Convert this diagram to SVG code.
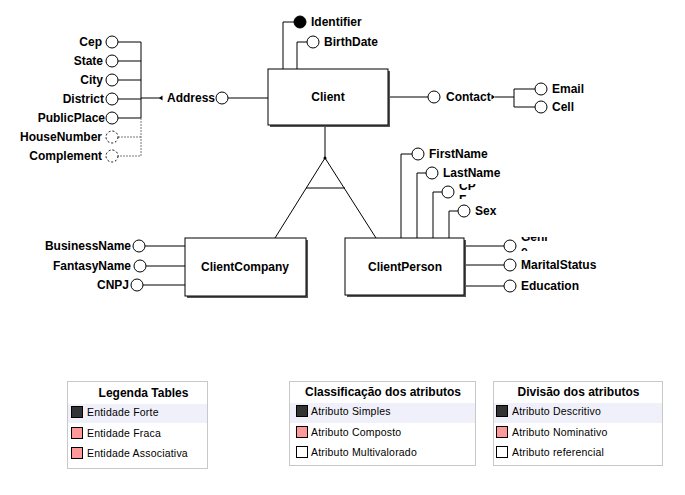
<svg xmlns="http://www.w3.org/2000/svg" width="685" height="495" viewBox="0 0 685 495">
<style>
.ent{fill:#fff;stroke:#000;stroke-width:1}
.sh{fill:#555}
.ln{stroke:#000;stroke-width:1;fill:none}
.dl{stroke:#777;stroke-width:1;fill:none;stroke-dasharray:2,1}
.at{fill:#fff;stroke:#000;stroke-width:1}
.atd{fill:#fff;stroke:#000;stroke-width:1;stroke-dasharray:2,2}
.t{font-family:"Liberation Sans",Arial,sans-serif;font-size:12px;font-weight:bold;fill:#000}
.lt{font-family:"Liberation Sans",Arial,sans-serif;font-size:10.5px;fill:#000;letter-spacing:0.2px}
.lh{font-family:"Liberation Sans",Arial,sans-serif;font-size:12px;font-weight:bold;fill:#000}
.lb{fill:#fff;stroke:#c8c8c8;stroke-width:1}
.band{fill:#f0f0fa}
.sw{stroke:#000;stroke-width:1}
</style>
<defs>
<clipPath id="cpf"><rect x="455" y="184" width="40" height="15"/></clipPath>
<clipPath id="genre"><rect x="517" y="237" width="40" height="14"/></clipPath>
</defs>

<g id="connectors">
  <polyline class="ln" points="283,69 283,22 294,22"/>
  <polyline class="ln" points="297,69 297,42 307,42"/>
  <line class="ln" x1="388" y1="97" x2="428" y2="97"/>
  <line class="ln" x1="495" y1="97" x2="514" y2="97"/>
  <polyline class="ln" points="535,89 514,89 514,107 535,107"/>
  <polygon points="495,97 491.5,94.5 491.5,99.5" fill="#000"/>
  <line class="ln" x1="228" y1="98" x2="268" y2="98"/>
  <line class="ln" x1="141" y1="98" x2="162" y2="98"/>
  <polygon points="159,98 162.5,95.5 162.5,100.5" fill="#000"/>
  <line class="ln" x1="141" y1="42" x2="141" y2="118"/>
  <line class="ln" x1="118" y1="42" x2="141" y2="42"/>
  <line class="ln" x1="118" y1="61" x2="141" y2="61"/>
  <line class="ln" x1="118" y1="80" x2="141" y2="80"/>
  <line class="ln" x1="118" y1="99" x2="141" y2="99"/>
  <line class="ln" x1="118" y1="118" x2="141" y2="118"/>
  <polyline class="dl" points="141,118 141,156 118,156"/>
  <line class="dl" x1="118" y1="137" x2="141" y2="137"/>
  <line class="ln" x1="325" y1="125" x2="325" y2="158"/>
  <circle cx="325" cy="158" r="1.5" fill="#000"/>
  <line class="ln" x1="325" y1="158" x2="275" y2="238"/>
  <line class="ln" x1="325" y1="158" x2="376" y2="238"/>
  <line class="ln" x1="306" y1="188" x2="345" y2="188"/>
  <line class="ln" x1="145" y1="246" x2="185" y2="246"/>
  <line class="ln" x1="146" y1="266" x2="185" y2="266"/>
  <line class="ln" x1="143" y1="285" x2="185" y2="285"/>
  <polyline class="ln" points="401,238 401,154 412,154"/>
  <polyline class="ln" points="417,238 417,173 426,173"/>
  <polyline class="ln" points="433,238 433,192 442,192"/>
  <polyline class="ln" points="449,238 449,211 458,211"/>
  <line class="ln" x1="464" y1="246" x2="504" y2="246"/>
  <line class="ln" x1="464" y1="265" x2="504" y2="265"/>
  <line class="ln" x1="464" y1="286" x2="504" y2="286"/>
</g>

<g id="Client">
  <rect class="sh" x="270" y="71" width="120" height="56"/>
  <rect class="ent" x="268" y="69" width="120" height="56"/>
  <text class="t" x="328" y="101" text-anchor="middle">Client</text>
</g>
<g id="ClientCompany">
  <rect class="sh" x="187" y="240" width="121" height="58"/>
  <rect class="ent" x="185" y="238" width="121" height="58"/>
  <text class="t" x="245" y="271" text-anchor="middle">ClientCompany</text>
</g>
<g id="ClientPerson">
  <rect class="sh" x="347" y="240" width="119" height="57"/>
  <rect class="ent" x="345" y="238" width="119" height="57"/>
  <text class="t" x="405" y="271" text-anchor="middle">ClientPerson</text>
</g>

<g id="Identifier">
  <circle cx="300" cy="22" r="6" fill="#000" stroke="#000"/>
  <text class="t" x="311" y="26">Identifier</text>
</g>
<g id="BirthDate">
  <circle class="at" cx="313" cy="42" r="6"/>
  <text class="t" x="324" y="46">BirthDate</text>
</g>
<g id="Contact">
  <circle class="at" cx="434" cy="97" r="6"/>
  <text class="t" x="446" y="101">Contact</text>
</g>
<g id="Email">
  <circle class="at" cx="541" cy="89" r="6"/>
  <text class="t" x="552" y="93">Email</text>
</g>
<g id="Cell">
  <circle class="at" cx="541" cy="107" r="6"/>
  <text class="t" x="552" y="111">Cell</text>
</g>
<g id="Address">
  <circle class="at" cx="222" cy="98" r="6"/>
  <text class="t" x="167" y="102">Address</text>
</g>
<g id="Cep">
  <circle class="at" cx="112" cy="42" r="6"/>
  <text class="t" x="102" y="46" text-anchor="end">Cep</text>
</g>
<g id="State">
  <circle class="at" cx="112" cy="61" r="6"/>
  <text class="t" x="103" y="65" text-anchor="end">State</text>
</g>
<g id="City">
  <circle class="at" cx="112" cy="80" r="6"/>
  <text class="t" x="103" y="84" text-anchor="end">City</text>
</g>
<g id="District">
  <circle class="at" cx="112" cy="99" r="6"/>
  <text class="t" x="104" y="103" text-anchor="end">District</text>
</g>
<g id="PublicPlace">
  <circle class="at" cx="112" cy="118" r="6"/>
  <text class="t" x="105" y="122" text-anchor="end">PublicPlace</text>
</g>
<g id="HouseNumber">
  <circle class="atd" cx="112" cy="137" r="6"/>
  <text class="t" x="102" y="141" text-anchor="end">HouseNumber</text>
</g>
<g id="Complement">
  <circle class="atd" cx="112" cy="156" r="6"/>
  <text class="t" x="102" y="160" text-anchor="end">Complement</text>
</g>

<g id="BusinessName">
  <circle class="at" cx="139" cy="246" r="6"/>
  <text class="t" x="131" y="250" text-anchor="end">BusinessName</text>
</g>
<g id="FantasyName">
  <circle class="at" cx="140" cy="266" r="6"/>
  <text class="t" x="131" y="270" text-anchor="end">FantasyName</text>
</g>
<g id="CNPJ">
  <circle class="at" cx="137" cy="285" r="6"/>
  <text class="t" x="129" y="289" text-anchor="end">CNPJ</text>
</g>

<g id="FirstName">
  <circle class="at" cx="418" cy="154" r="6"/>
  <text class="t" x="429" y="158">FirstName</text>
</g>
<g id="LastName">
  <circle class="at" cx="432" cy="173" r="6"/>
  <text class="t" x="443" y="177">LastName</text>
</g>
<g id="CPF">
  <circle class="at" cx="448" cy="192" r="6"/>
  <g clip-path="url(#cpf)">
    <text class="t" x="459" y="190">CP</text>
    <text class="t" x="459" y="204">F</text>
  </g>
</g>
<g id="Sex">
  <circle class="at" cx="464" cy="211" r="6"/>
  <text class="t" x="475" y="215">Sex</text>
</g>
<g id="Genre">
  <circle class="at" cx="510" cy="246" r="6"/>
  <g clip-path="url(#genre)">
    <text class="t" x="521" y="241">Genr</text>
    <text class="t" x="521" y="255">e</text>
  </g>
</g>
<g id="MaritalStatus">
  <circle class="at" cx="510" cy="265" r="6"/>
  <text class="t" x="521" y="269">MaritalStatus</text>
</g>
<g id="Education">
  <circle class="at" cx="510" cy="286" r="6"/>
  <text class="t" x="521" y="290">Education</text>
</g>

<g id="legend1">
  <rect class="lb" x="67.5" y="381.5" width="140" height="87"/>
  <rect class="band" x="68" y="404" width="139" height="19"/>
  <text class="lh" x="143.5" y="397" text-anchor="middle">Legenda Tables</text>
  <rect class="sw" x="71.5" y="406.5" width="11" height="11" fill="#333"/>
  <text class="lt" x="87" y="416">Entidade Forte</text>
  <rect class="sw" x="71.5" y="427.5" width="11" height="11" fill="#ff9999"/>
  <text class="lt" x="87" y="437">Entidade Fraca</text>
  <rect class="sw" x="71.5" y="447.5" width="11" height="11" fill="#ff9999"/>
  <text class="lt" x="87" y="457">Entidade Associativa</text>
</g>
<g id="legend2">
  <rect class="lb" x="289.5" y="381.5" width="186" height="84"/>
  <rect class="band" x="290" y="403" width="185" height="20"/>
  <text class="lh" x="383" y="396" text-anchor="middle">Classificação dos atributos</text>
  <rect class="sw" x="296.5" y="405.5" width="11" height="11" fill="#333"/>
  <text class="lt" x="311" y="415">Atributo Simples</text>
  <rect class="sw" x="296.5" y="426.5" width="11" height="11" fill="#ff9999"/>
  <text class="lt" x="311" y="436">Atributo Composto</text>
  <rect class="sw" x="296.5" y="446.5" width="11" height="11" fill="#fff"/>
  <text class="lt" x="311" y="456">Atributo Multivalorado</text>
</g>
<g id="legend3">
  <rect class="lb" x="493.5" y="381.5" width="169" height="84"/>
  <rect class="band" x="494" y="403" width="168" height="20"/>
  <text class="lh" x="578.5" y="396" text-anchor="middle">Divisão dos atributos</text>
  <rect class="sw" x="496.5" y="405.5" width="11" height="11" fill="#333"/>
  <text class="lt" x="512" y="415">Atributo Descritivo</text>
  <rect class="sw" x="496.5" y="426.5" width="11" height="11" fill="#ff9999"/>
  <text class="lt" x="512" y="436">Atributo Nominativo</text>
  <rect class="sw" x="496.5" y="446.5" width="11" height="11" fill="#fff"/>
  <text class="lt" x="512" y="456">Atributo referencial</text>
</g>
</svg>
